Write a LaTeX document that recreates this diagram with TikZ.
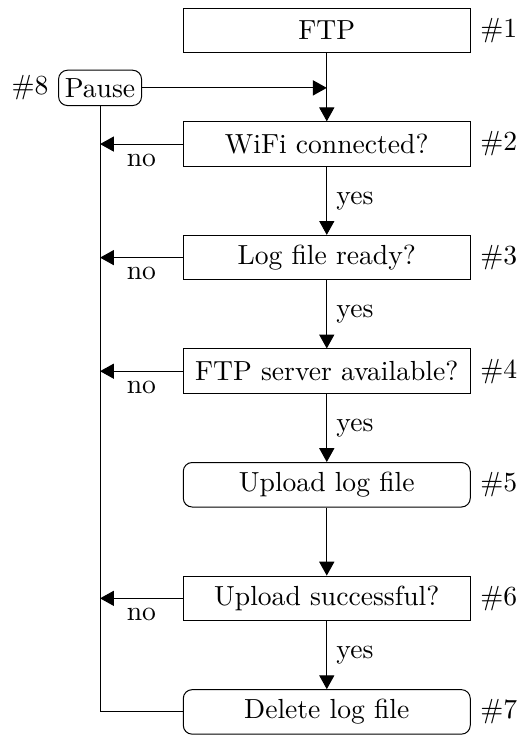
\documentclass[tikz,border=0pt,11pt]{standalone}
\usepackage{tikz,amsmath}
\usetikzlibrary{arrows.meta}

\begin{document}
\begin{tikzpicture}[>={Triangle[length=5.5pt,width=6pt]}]
\tikzstyle{box}=[draw, minimum width=4cm, minimum height=0.62cm]
\tikzstyle{roundbox}=[box, rounded corners=3.5pt]
\useasboundingbox (-4.555,0.425) rectangle (2.655,-9.82);
\node [box, label=right:{$\#1$}] (ftp) at (0,0) {FTP};
\node [draw, rounded corners=3.5pt, inner sep=2.5pt, minimum height=14pt,
       label=left:{$\#8$}] (pause) at (-3.16,-0.80) {Pause};
\node [box, label=right:{$\#2$}] (wifi) at (0,-1.583) {WiFi connected?};
\node [box, label=right:{$\#3$}] (logready) at (0,-3.166) {Log file ready?};
\node [box, label=right:{$\#4$}] (server) at (0,-4.749) {FTP server available?};
\node [roundbox, label=right:{$\#5$}] (upload) at (0,-6.332) {Upload log file};
\node [box, label=right:{$\#6$}] (success) at (0,-7.915) {Upload successful?};
\node [roundbox, label=right:{$\#7$}] (delete) at (0,-9.498) {Delete log file};
\draw [->] (ftp) -- (wifi);
\draw [->] (pause) -- (pause -| ftp);
\draw [->] (wifi) -- node [right] {yes} (logready);
\draw [->] (logready) -- node [right] {yes} (server);
\draw [->] (server) -- node [right] {yes} (upload);
\draw [->] (upload) -- (success);
\draw [->] (success) -- node [right] {yes} (delete);
\draw [->] (wifi) -- node [below] {no} (pause |- wifi);
\draw [->] (logready) -- node [below] {no} (pause |- logready);
\draw [->] (server) -- node [below] {no} (pause |- server);
\draw [->] (success) -- node [below] {no} (pause |- success);
\draw (delete) -| (pause);
\end{tikzpicture}
\end{document}
